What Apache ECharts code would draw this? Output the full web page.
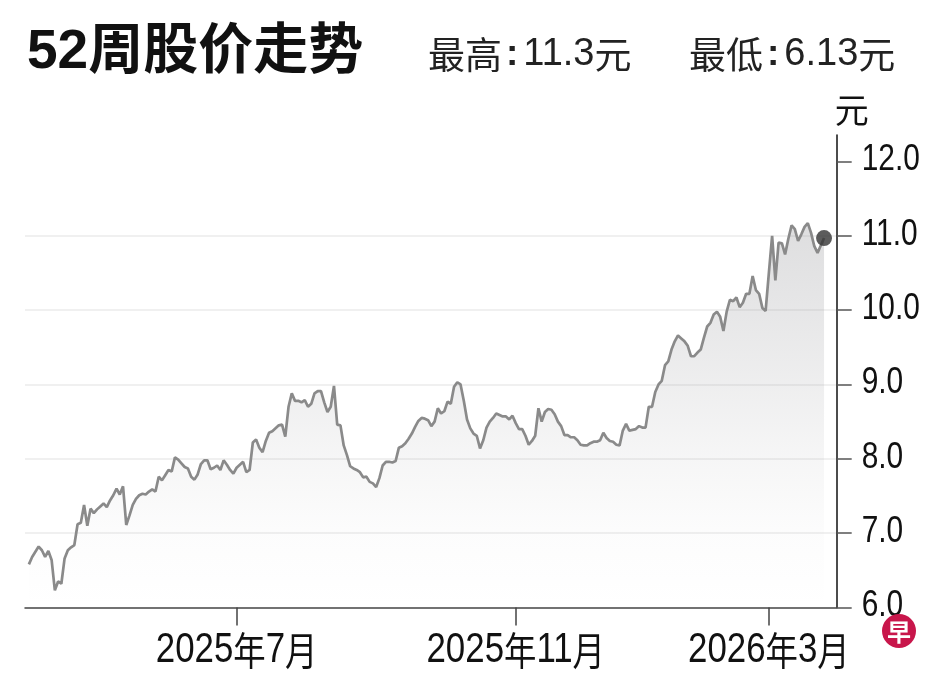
<!DOCTYPE html>
<html>
<head>
    <meta charset="utf-8">
    <script type="text/javascript" src="https://cdn.jsdelivr.net/npm/echarts@6/dist/echarts.min.js"></script>
    <style>html, body { margin: 0; padding: 0; background: #fff; }</style>
</head>
<body>
    <div id="main" style="width: 948px;height:679px;"></div>
    <script type="text/javascript">
    // 每个交易日收盘价 (约52周)
    const prices = [
        6.58, 6.68, 6.75, 6.82, 6.77, 6.68, 6.76, 6.64, 6.23, 6.35,
        6.32, 6.66, 6.77, 6.81, 6.84, 7.12, 7.14, 7.38, 7.10, 7.33,
        7.27, 7.32, 7.36, 7.40, 7.35, 7.44, 7.51, 7.60, 7.52, 7.63,
        7.11, 7.24, 7.38, 7.46, 7.51, 7.53, 7.52, 7.56, 7.59, 7.56,
        7.76, 7.71, 7.78, 7.85, 7.83, 8.02, 7.99, 7.94, 7.89, 7.87,
        7.76, 7.72, 7.79, 7.93, 7.98, 7.98, 7.86, 7.88, 7.91, 7.85,
        7.98, 7.92, 7.85, 7.80, 7.88, 7.92, 7.96, 7.82, 7.85, 8.22,
        8.26, 8.15, 8.09, 8.24, 8.35, 8.37, 8.41, 8.45, 8.46, 8.30,
        8.70, 8.88, 8.78, 8.78, 8.76, 8.79, 8.70, 8.74, 8.88, 8.91,
        8.91, 8.76, 8.63, 8.70, 8.98, 8.46, 8.45, 8.18, 8.05, 7.90,
        7.87, 7.85, 7.82, 7.75, 7.76, 7.69, 7.67, 7.62, 7.74, 7.91,
        7.96, 7.96, 7.95, 7.97, 8.15, 8.17, 8.21, 8.27, 8.34, 8.43,
        8.51, 8.55, 8.54, 8.52, 8.44, 8.50, 8.68, 8.61, 8.64, 8.77,
        8.74, 8.97, 9.03, 9.00, 8.78, 8.53, 8.41, 8.34, 8.31, 8.14,
        8.25, 8.42, 8.50, 8.55, 8.61, 8.59, 8.57, 8.57, 8.53, 8.58,
        8.48, 8.40, 8.40, 8.31, 8.19, 8.24, 8.31, 8.68, 8.50, 8.63,
        8.67, 8.66, 8.60, 8.50, 8.44, 8.32, 8.32, 8.29, 8.29, 8.25,
        8.19, 8.18, 8.18, 8.21, 8.23, 8.23, 8.25, 8.35, 8.28, 8.24,
        8.23, 8.19, 8.18, 8.38, 8.47, 8.38, 8.39, 8.40, 8.44, 8.42,
        8.42, 8.70, 8.70, 8.90, 9.00, 9.05, 9.26, 9.31, 9.47, 9.58,
        9.66, 9.62, 9.58, 9.52, 9.38, 9.38, 9.43, 9.47, 9.63, 9.78,
        9.83, 9.94, 9.98, 9.91, 9.72, 9.98, 10.14, 10.12, 10.17, 10.04,
        10.10, 10.22, 10.22, 10.46, 10.27, 10.22, 10.03, 9.99, 10.50, 11.00,
        10.40, 10.91, 10.90, 10.75, 10.96, 11.14, 11.09, 10.93, 11.02, 11.12,
        11.17, 11.04, 10.86, 10.77, 10.87, 10.97
    ]
    // 每月首个交易日的序号和标签
    const monthTicks = [64, 150, 228]
    const monthLabels = ['2025年7月', '2025年11月', '2026年3月']
    const yTicks = [6, 7, 8, 9, 10, 11, 12]
    const highPrice = '11.3'
    const lowPrice = '6.13'

    const X_MIN = -1.2, X_MAX = 248.9
    const Y_MIN = 6, Y_MAX = 12.356
    const NUM_FONT = '"Liberation Sans", Arial, sans-serif'
    const CJK_FONT = '"Noto Sans CJK SC", sans-serif'
    const SQUEEZE = 0.83   // 原图数字是窄体

    // 数字和汉字分开用不同字号
    function richify(s) {
        return s.replace(/\d+|[^\d]+/g, m => /\d/.test(m) ? `{d|${m}}` : `{c|${m}}`)
    }
    function headRich() {
        return {
            c: { fontSize: 37, fontWeight: 'normal', color: '#222', fontFamily: CJK_FONT },
            p: { fontSize: 37, fontWeight: 'bold', color: '#222', fontFamily: NUM_FONT, padding: [0, 5, 0, 4] },
            n: { fontSize: 38, fontWeight: 'normal', color: '#222', fontFamily: NUM_FONT }
        }
    }

    let lineData = prices.map((v, i) => [i, v])
    let lastIdx = prices.length - 1

    let logo = [{
        id: 'logoBg',
        type: 'circle',
        shape: { cx: 899, cy: 631, r: 17 },
        style: { fill: '#c8164b' },
        z: 10
    }, {
        id: 'logoText',
        type: 'text',
        x: 899,
        y: 632,
        z: 11,
        style: {
            text: '早',
            fill: '#fff',
            fontSize: 24,
            fontWeight: 'bold',
            fontFamily: CJK_FONT,
            align: 'center',
            verticalAlign: 'middle'
        }
    }]

    var myChart = echarts.init(document.getElementById('main'))
    let option = {
        animation: false,
        backgroundColor: '#fff',
        title: [{
            text: '52周股价走势',
            left: 22,
            top: 20,
            textStyle: {
                fontSize: 55,
                fontWeight: 'bold',
                color: '#111',
                fontFamily: '"Liberation Sans", "Noto Sans CJK SC", sans-serif'
            }
        }, {
            text: `{c|最高}{p|:}{n|${highPrice}}{c|元}`,
            left: 423,
            top: 31,
            textStyle: { rich: headRich() }
        }, {
            text: `{c|最低}{p|:}{n|${lowPrice}}{c|元}`,
            left: 684,
            top: 31,
            textStyle: { rich: headRich() }
        }],
        grid: {
            left: 25,
            right: 111.3,
            top: 135,
            bottom: 71.5,
            outerBoundsMode: 'none'
        },
        xAxis: {
            type: 'value',
            min: X_MIN,
            max: X_MAX,
            axisLine: { show: true, onZero: false, lineStyle: { color: '#444', width: 1.5 } },
            axisTick: {
                show: true,
                customValues: monthTicks,
                length: 18,
                lineStyle: { color: '#444', width: 1.5 }
            },
            axisLabel: { show: false },
            splitLine: { show: false }
        },
        yAxis: {
            type: 'value',
            position: 'right',
            min: Y_MIN,
            max: Y_MAX,
            interval: 1,
            name: '元',
            nameLocation: 'end',
            nameGap: 25,
            nameTextStyle: {
                fontSize: 34,
                color: '#111',
                fontFamily: CJK_FONT,
                align: 'left',
                verticalAlign: 'middle',
                padding: [0, 0, 0, -2]
            },
            axisLine: { show: true, onZero: false, lineStyle: { color: '#111', width: 1.5 } },
            axisTick: {
                show: true,
                customValues: yTicks,
                length: 15,
                lineStyle: { color: '#555', width: 1.5 }
            },
            axisLabel: { show: false },
            splitLine: {
                show: true,
                showMinLine: false,
                showMaxLine: false,
                lineStyle: { color: '#ebebeb', width: 1.5 }
            }
        },
        series: [{
            name: 'price',
            type: 'line',
            data: lineData,
            showSymbol: false,
            z: 2,
            lineStyle: { color: '#8a8a8a', width: 2.7 },
            areaStyle: {
                origin: 'start',
                color: new echarts.graphic.LinearGradient(0, 0, 0, 1, [
                    { offset: 0, color: 'rgba(150,150,154,0.45)' },
                    { offset: 0.4, color: 'rgba(150,150,154,0.24)' },
                    { offset: 0.6, color: 'rgba(150,150,154,0.13)' },
                    { offset: 0.8, color: 'rgba(150,150,154,0.04)' },
                    { offset: 1, color: 'rgba(150,150,154,0)' }
                ])
            }
        }, {
            name: 'last',
            type: 'scatter',
            data: [[lastIdx, prices[lastIdx]]],
            symbolSize: 16,
            z: 3,
            itemStyle: { color: '#333' }
        }],
        graphic: logo
    }
    myChart.setOption(option)

    // 刻度文字用窄体: 位置由坐标轴换算, 再横向压缩
    let labels = []
    yTicks.forEach((v, k) => {
        let p = myChart.convertToPixel({ gridIndex: 0 }, [X_MAX, v])
        labels.push({
            id: 'y' + k,
            type: 'text',
            x: p[0] + 25,
            y: p[1] - 1,
            scaleX: SQUEEZE,
            style: {
                text: v.toFixed(1),
                fill: '#111',
                fontSize: 36,
                fontFamily: NUM_FONT,
                align: 'left',
                verticalAlign: 'middle'
            }
        })
    })
    monthTicks.forEach((t, k) => {
        let p = myChart.convertToPixel({ gridIndex: 0 }, [t, Y_MIN])
        labels.push({
            id: 'x' + k,
            type: 'text',
            x: p[0],
            y: p[1] + 43,
            scaleX: SQUEEZE,
            style: {
                text: richify(monthLabels[k]),
                align: 'center',
                verticalAlign: 'middle',
                rich: {
                    d: { fontSize: 42, fill: '#111', fontFamily: NUM_FONT },
                    c: { fontSize: 39, fill: '#111', fontFamily: CJK_FONT }
                }
            }
        })
    })
    myChart.setOption({ graphic: logo.concat(labels) })
    </script>
</body>
</html>
